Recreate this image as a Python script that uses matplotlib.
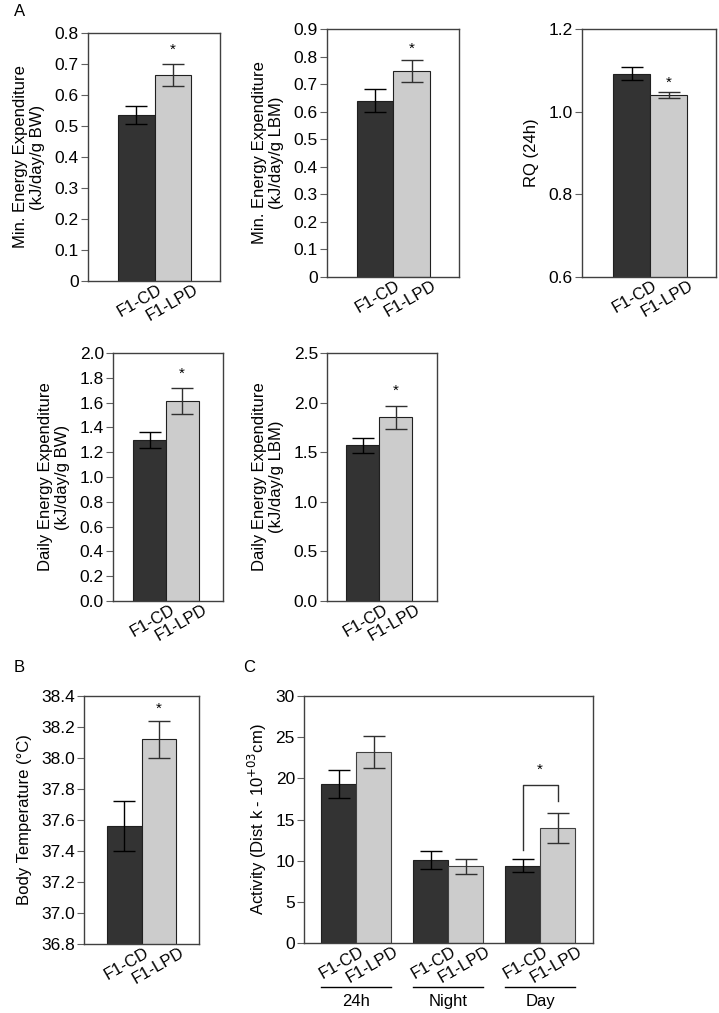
import matplotlib.pyplot as plt
from matplotlib import transforms

plt.rcParams["font.family"] = ["Liberation Sans", "DejaVu Sans"]

W, H = 719, 1013

groups = ["F1-CD", "F1-LPD"]
dark = "#333333"
light = "#cccccc"

# panel A, top row
min_ee_bw = [0.535, 0.665]
min_ee_bw_err = [0.03, 0.035]
min_ee_lbm = [0.64, 0.748]
min_ee_lbm_err = [0.042, 0.04]
rq_24h = [1.092, 1.040]
rq_24h_err = [0.015, 0.007]

# panel A, bottom row
daily_ee_bw = [1.30, 1.615]
daily_ee_bw_err = [0.065, 0.105]
daily_ee_lbm = [1.57, 1.85]
daily_ee_lbm_err = [0.078, 0.112]

# panel B
body_temp = [37.56, 38.12]
body_temp_err = [0.16, 0.12]

# panel C
periods = ["24h", "Night", "Day"]
activity_cd = [19.3, 10.1, 9.4]
activity_cd_err = [1.7, 1.1, 0.75]
activity_lpd = [23.2, 9.3, 14.0]
activity_lpd_err = [1.9, 0.9, 1.85]

TICK_FS = 12.5
LABEL_FS = 12
XT_FS = 12


def box(x0, y0, x1, y1):
    return [x0 / W, 1 - y1 / H, (x1 - x0) / W, (y1 - y0) / H]


def style(ax):
    for s in ax.spines.values():
        s.set_color("#404040")
        s.set_linewidth(1.0)
    ax.tick_params(axis="y", length=5, width=0.8, color="#606060",
                   labelsize=TICK_FS, pad=1.5)
    ax.tick_params(axis="x", length=0, labelsize=XT_FS, pad=1)


def xlabels(ax, pos, labels):
    ax.set_xticks(pos)
    ax.set_xticklabels(labels, rotation=30, ha="right",
                       rotation_mode="anchor")
    shift = transforms.ScaledTranslation(20 / 100, 0, ax.figure.dpi_scale_trans)
    for lab in ax.get_xticklabels():
        lab.set_transform(lab.get_transform() + shift)


def two_bar(rect, vals, errs, ylim, ticklabels, ylabel, xlim, star_y):
    ax = fig.add_axes(box(*rect))
    ax.bar([0, 1], vals, width=1.0, color=[dark, light],
           edgecolor="#202020", linewidth=0.8, zorder=2)
    for i, c in enumerate(["black", "#303030"]):
        ax.errorbar(i, vals[i], yerr=errs[i], color=c, capsize=8,
                    elinewidth=1, capthick=1, zorder=3)
    ax.text(1, star_y, "*", ha="center", va="center", fontsize=11)
    ax.set_ylim(*ylim)
    ax.set_xlim(*xlim)
    ax.set_yticks([float(t) for t in ticklabels])
    ax.set_yticklabels(ticklabels)
    ax.set_ylabel(ylabel, fontsize=LABEL_FS, labelpad=7, linespacing=1.15)
    style(ax)
    xlabels(ax, [0, 1], groups)
    return ax


fig = plt.figure(figsize=(W / 100, H / 100), dpi=100)

two_bar((88, 33, 220, 281), min_ee_bw, min_ee_bw_err, (0, 0.8),
        ["0", "0.1", "0.2", "0.3", "0.4", "0.5", "0.6", "0.7", "0.8"],
        "Min. Energy Expenditure\n(kJ/day/g BW)", (-1.33, 2.29), 0.745)
two_bar((327, 29, 459, 277), min_ee_lbm, min_ee_lbm_err, (0, 0.9),
        ["0", "0.1", "0.2", "0.3", "0.4", "0.5", "0.6", "0.7", "0.8", "0.9"],
        "Min. Energy Expenditure\n(kJ/day/g LBM)", (-1.32, 2.30), 0.83)
two_bar((582, 29, 716, 277), rq_24h, rq_24h_err, (0.6, 1.2),
        ["0.6", "0.8", "1.0", "1.2"], "RQ (24h)", (-1.34, 2.28), 1.07)
two_bar((113, 353, 223, 601), daily_ee_bw, daily_ee_bw_err, (0, 2.0),
        ["0.0", "0.2", "0.4", "0.6", "0.8", "1.0", "1.2", "1.4", "1.6",
         "1.8", "2.0"],
        "Daily Energy Expenditure\n(kJ/day/g BW)", (-1.12, 2.25), 1.83)
two_bar((327, 353, 437, 601), daily_ee_lbm, daily_ee_lbm_err, (0, 2.5),
        ["0.0", "0.5", "1.0", "1.5", "2.0", "2.5"],
        "Daily Energy Expenditure\n(kJ/day/g LBM)", (-1.08, 2.26), 2.12)
two_bar((84, 696, 199, 944), body_temp, body_temp_err, (36.8, 38.4),
        ["36.8", "37.0", "37.2", "37.4", "37.6", "37.8", "38.0", "38.2",
         "38.4"],
        "Body Temperature (°C)", (-1.17, 2.16), 38.32)

# panel C
ax = fig.add_axes(box(304, 696, 593, 943))
centers = [0, 2.63, 5.26]
cd_x = [c - 0.5 for c in centers]
lpd_x = [c + 0.5 for c in centers]
ax.bar(cd_x, activity_cd, width=1.0, color=dark, edgecolor="#202020",
       linewidth=0.8, zorder=2)
ax.bar(lpd_x, activity_lpd, width=1.0, color=light, edgecolor="#404040",
       linewidth=0.8, zorder=2)
ax.errorbar(cd_x, activity_cd, yerr=activity_cd_err, fmt="none",
            ecolor="black", capsize=8, elinewidth=1, capthick=1, zorder=3)
ax.errorbar(lpd_x, activity_lpd, yerr=activity_lpd_err, fmt="none",
            ecolor="#303030", capsize=8, elinewidth=1, capthick=1, zorder=3)
ax.plot([cd_x[2], cd_x[2], lpd_x[2], lpd_x[2]], [11.3, 19.2, 19.2, 17.2],
        color="#303030", lw=1)
ax.text(centers[2], 21.0, "*", ha="center", va="center", fontsize=11)
ax.set_ylim(0, 30)
ax.set_xlim(-1.49, 6.77)
ax.set_yticks(range(0, 31, 5))
ax.set_ylabel("Activity (Dist k - 10$^{+03}$cm)", fontsize=LABEL_FS, labelpad=5)
style(ax)
xlabels(ax, cd_x + lpd_x, ["F1-CD"] * 3 + ["F1-LPD"] * 3)
trans = transforms.blended_transform_factory(ax.transData, ax.transAxes)
for c, name in zip(centers, periods):
    ax.plot([c - 1, c + 1], [-0.178, -0.178], color="black", lw=1,
            transform=trans, clip_on=False)
    ax.text(c, -0.236, name, transform=trans, ha="center", va="center",
            fontsize=LABEL_FS)

fig.text(14 / W, 1 - 12 / H, "A", fontsize=12, va="center")
fig.text(14 / W, 1 - 667 / H, "B", fontsize=12, va="center")
fig.text(243 / W, 1 - 667 / H, "C", fontsize=12, va="center")

fig.savefig("out.png", dpi=100)
